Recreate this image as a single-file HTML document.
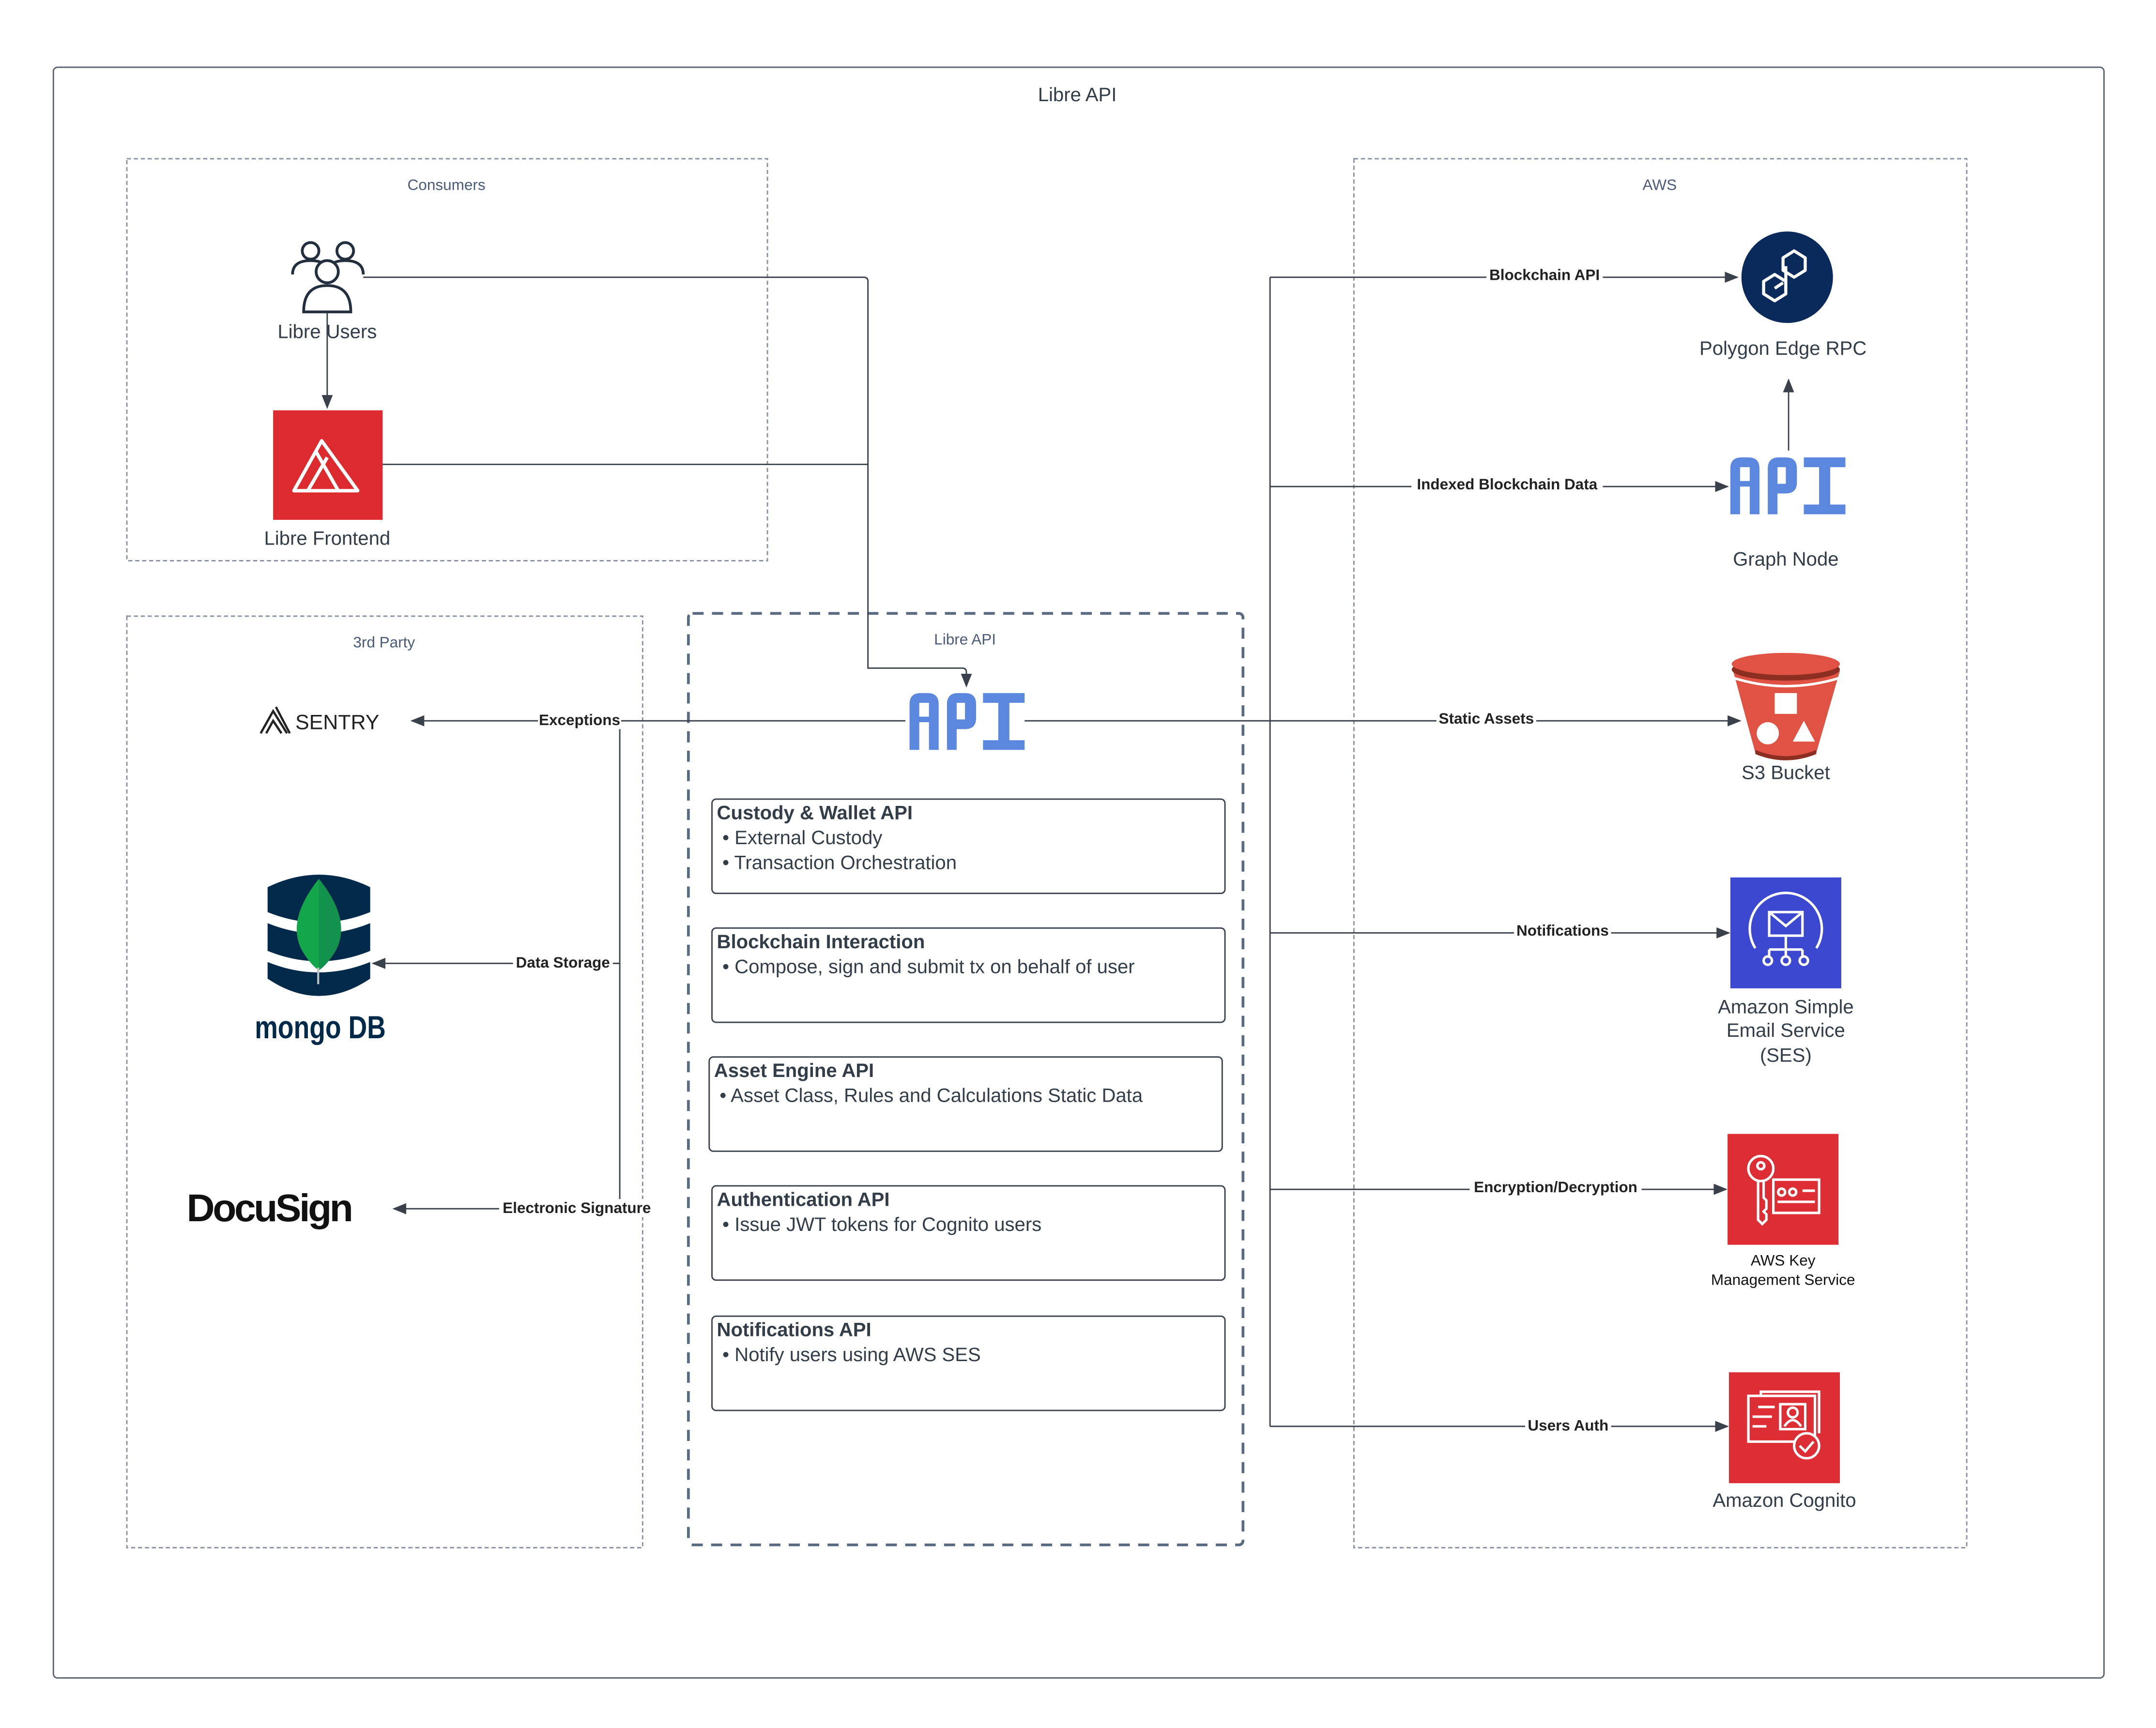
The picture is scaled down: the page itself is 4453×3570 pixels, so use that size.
<!DOCTYPE html>
<html><head><meta charset="utf-8"><style>
html,body{margin:0;padding:0;background:#fff;}
svg{display:block;}
text{font-family:"Liberation Sans",Arial,sans-serif;fill:#333d47;}
.lbl{font-size:14px;text-anchor:middle;}
.cl{font-size:11px;font-weight:bold;text-anchor:middle;fill:#222;}
.grp{font-size:11px;text-anchor:middle;fill:#4a5a78;}
.bt{font-size:14px;font-weight:bold;}
.bb{font-size:14px;}
</style></head><body>
<svg width="4453" height="3570" viewBox="0 0 1555 1246.6" preserveAspectRatio="none" xmlns="http://www.w3.org/2000/svg">
<defs>
<marker id="ar" markerWidth="10" markerHeight="8" refX="9" refY="4" orient="auto" markerUnits="userSpaceOnUse"><path d="M0,0 L10,4 L0,8 Z" fill="#3a414a"/></marker>
</defs>
<rect width="1555" height="1247" fill="#fff"/>
<rect x="38.5" y="48.5" width="1479" height="1162" rx="3" fill="none" stroke="#5a6270" stroke-width="1"/>
<text x="777" y="73" class="lbl">Libre API</text>

<rect x="91.5" y="114.5" width="462" height="290" fill="none" stroke="#8a90a0" stroke-dasharray="3,2" stroke-width="1"/>
<text x="322" y="137" class="grp">Consumers</text>
<rect x="976.5" y="114.5" width="442" height="1002" fill="none" stroke="#8a90a0" stroke-dasharray="3,2" stroke-width="1"/>
<text x="1197" y="137" class="grp">AWS</text>
<rect x="91.5" y="444.5" width="372" height="672" fill="none" stroke="#8a90a0" stroke-dasharray="3,2" stroke-width="1"/>
<text x="277" y="467" class="grp">3rd Party</text>
<rect x="496.5" y="442.5" width="400" height="672" rx="3" fill="none" stroke="#5a6a80" stroke-dasharray="8,6" stroke-width="2"/>
<text x="696" y="465" class="grp">Libre API</text>

<g stroke="#3a414a" stroke-width="1" fill="none">
<path d="M262,200 H623 Q626,200 626,203 V482 H694 Q697,482 697,485 V495" marker-end="url(#ar)"/>
<path d="M276,335 H626"/>
<path d="M236,226 V294" marker-end="url(#ar)"/>
<path d="M653,520 H297" marker-end="url(#ar)"/>
<path d="M447,520 V872"/>
<path d="M447,695 H269" marker-end="url(#ar)"/>
<path d="M447,872 H284" marker-end="url(#ar)"/>
<path d="M739,520 H1255" marker-end="url(#ar)"/>
<path d="M916,200 V1029"/>
<path d="M916,200 H1253" marker-end="url(#ar)"/>
<path d="M916,351 H1246" marker-end="url(#ar)"/>
<path d="M916,673 H1247" marker-end="url(#ar)"/>
<path d="M916,858 H1245" marker-end="url(#ar)"/>
<path d="M916,1029 H1246" marker-end="url(#ar)"/>
<path d="M1290,325 V274" marker-end="url(#ar)"/>
</g>
<g>
<rect x="388" y="513" width="60" height="13" fill="#fff"/><text x="418" y="523" class="cl">Exceptions</text>
<rect x="370" y="688" width="72" height="13" fill="#fff"/><text x="406" y="698" class="cl">Data Storage</text>
<rect x="360" y="865" width="112" height="13" fill="#fff"/><text x="416" y="875" class="cl">Electronic Signature</text>
<rect x="1072" y="192" width="84" height="13" fill="#fff"/><text x="1114" y="202" class="cl">Blockchain API</text>
<rect x="1018" y="343" width="138" height="13" fill="#fff"/><text x="1087" y="353" class="cl">Indexed Blockchain Data</text>
<rect x="1036" y="512" width="72" height="13" fill="#fff"/><text x="1072" y="522" class="cl">Static Assets</text>
<rect x="1092" y="665" width="70" height="13" fill="#fff"/><text x="1127" y="675" class="cl">Notifications</text>
<rect x="1060" y="850" width="124" height="13" fill="#fff"/><text x="1122" y="860" class="cl">Encryption/Decryption</text>
<rect x="1100" y="1021" width="62" height="13" fill="#fff"/><text x="1131" y="1032" class="cl">Users Auth</text>
</g>

<g stroke="#232f3e" stroke-width="2" fill="#fff">
<circle cx="224" cy="181" r="6"/><circle cx="249" cy="181" r="6"/>
<path d="M211,198 q0,-10 13,-10 q13,0 13,10"/><path d="M236,198 q0,-10 13,-10 q13,0 13,10"/>
<circle cx="236" cy="196" r="8"/>
<path d="M219,225 q0,-19 17,-19 q17,0 17,19 z"/>
</g>
<rect x="197" y="232" width="78" height="15" fill="#fff"/>
<text x="236" y="244" class="lbl">Libre Users</text>
<path d="M236,232 V247" stroke="#3a414a"/>

<rect x="197" y="296" width="79" height="79" fill="#dd2a2f"/>
<g fill="none" stroke="#fff" stroke-width="2.5" stroke-linejoin="round">
<path d="M212,354 L232,318 L258,354 Z"/><path d="M222,354 L236,330 M244,354 L228,326"/>
</g>
<text x="236" y="393" class="lbl">Libre Frontend</text>

<g fill="#5b87de">
<path d="M656,541 V508 q0,-8 8,-8 h5 q8,0 8,8 V541 h-7 V521 h-7 V541 Z M663,517 h7 V507 h-7 Z"/>
<path d="M683,541 V508 q0,-8 8,-8 h5 q8,0 8,8 v10 q0,8 -8,8 h-6 V541 Z M690,519 h6 V507 h-6 Z"/>
<path d="M709,500 h30 v7 h-11 v27 h11 v7 h-30 v-7 h11 v-27 h-11 Z"/>
</g>

<g fill="#fff" stroke="#3a414a" stroke-width="1">
<rect x="513.5" y="576.5" width="370" height="68" rx="3"/>
<rect x="513.5" y="669.5" width="370" height="68" rx="3"/>
<rect x="511.5" y="762.5" width="370" height="68" rx="3"/>
<rect x="513.5" y="855.5" width="370" height="68" rx="3"/>
<rect x="513.5" y="949.5" width="370" height="68" rx="3"/>
</g>
<text x="517" y="591" class="bt">Custody &amp; Wallet API</text>
<text x="521" y="609" class="bb">• External Custody</text>
<text x="521" y="627" class="bb">• Transaction Orchestration</text>
<text x="517" y="684" class="bt">Blockchain Interaction</text>
<text x="521" y="702" class="bb">• Compose, sign and submit tx on behalf of user</text>
<text x="515" y="777" class="bt">Asset Engine API</text>
<text x="519" y="795" class="bb">• Asset Class, Rules and Calculations Static Data</text>
<text x="517" y="870" class="bt">Authentication API</text>
<text x="521" y="888" class="bb">• Issue JWT tokens for Cognito users</text>
<text x="517" y="964" class="bt">Notifications API</text>
<text x="521" y="982" class="bb">• Notify users using AWS SES</text>

<path d="M188,529 l9,-16 l10,16 M192,529 l5,-9 l6,9 M199,510 l10,19" fill="none" stroke="#222" stroke-width="1.6"/>
<text x="213" y="526" style="font-size:15px;fill:#222">SENTRY</text>

<g fill="#012a4a">
<path d="M193,640 q37,-18 74,0 v18 q-37,15 -74,0 Z"/>
<path d="M193,666 q37,15 74,0 v20 q-37,15 -74,0 Z"/>
<path d="M193,694 q37,15 74,0 v12 q-37,25 -74,0 Z"/>
</g>
<path d="M230,634 q-24,30 -12,52 q6,10 12,14 q6,-4 12,-14 q12,-22 -12,-52 Z" fill="#14a64b"/>
<path d="M230,634 q24,30 12,52 q-6,10 -12,14 Z" fill="#13924d"/>
<path d="M229.5,698 v12" stroke="#b8c3c0" stroke-width="1.5"/>
<text x="0" y="0" style="font-size:22px;font-weight:bold;fill:#012a4a;text-anchor:middle" transform="translate(231,749) scale(0.85,1.05)">mongo DB</text>

<text x="194" y="881" style="font-size:28px;font-weight:bold;fill:#111;text-anchor:middle;letter-spacing:-1.5px">DocuSign</text>

<circle cx="1289" cy="200" r="33" fill="#0b2a5c"/>
<g fill="none" stroke="#fff" stroke-width="2.2" stroke-linejoin="round">
<path d="M1286,186 l8,-5 l8,5 v9 l-8,5 l-8,-5 Z"/>
<path d="M1272,203 l8,-5 l8,5 v9 l-8,5 l-8,-5 Z"/>
<path d="M1288,192 v18 M1280,208 l6,-4"/>
</g>
<text x="1286" y="256" class="lbl">Polygon Edge RPC</text>

<g fill="#5b87de" transform="translate(592,-170)">
<path d="M656,541 V508 q0,-8 8,-8 h5 q8,0 8,8 V541 h-7 V521 h-7 V541 Z M663,517 h7 V507 h-7 Z"/>
<path d="M683,541 V508 q0,-8 8,-8 h5 q8,0 8,8 v10 q0,8 -8,8 h-6 V541 Z M690,519 h6 V507 h-6 Z"/>
<path d="M709,500 h30 v7 h-11 v27 h11 v7 h-30 v-7 h11 v-27 h-11 Z"/>
</g>
<text x="1288" y="408" class="lbl">Graph Node</text>

<path d="M1250,484 L1266,543 q22,8 44,0 L1327,484 Z" fill="#e05243"/>
<path d="M1266,541 q22,9 44,0 v3 q-22,9 -44,0 Z" fill="#8c2e22"/>
<ellipse cx="1288" cy="483" rx="39" ry="8" fill="#8c2e22"/>
<ellipse cx="1288" cy="479" rx="39" ry="8" fill="#e05243"/>
<path d="M1250,489 q38,12 77,0" stroke="#fff" stroke-width="1.8" fill="none"/>
<rect x="1280" y="500" width="16" height="15" fill="#fff"/>
<circle cx="1275" cy="529" r="8" fill="#fff"/>
<path d="M1301,520 l8,15 h-16 Z" fill="#fff"/>
<text x="1288" y="562" class="lbl">S3 Bucket</text>

<rect x="1248" y="633" width="80" height="80" fill="#3c48cf"/>
<g fill="none" stroke="#fff" stroke-width="1.8">
<path d="M1266,684 a26,26 0 1 1 44,0"/>
<rect x="1276" y="658" width="24" height="17"/><path d="M1276,658 l12,10 l12,-10"/>
<path d="M1288,675 v10 M1276,685 h24 M1276,685 v5 M1300,685 v5 M1288,685 v5"/>
<circle cx="1275" cy="693" r="3"/><circle cx="1288" cy="693" r="3"/><circle cx="1301" cy="693" r="3"/>
</g>
<text x="1288" y="731" class="lbl">Amazon Simple</text>
<text x="1288" y="748" class="lbl">Email Service</text>
<text x="1288" y="766" class="lbl">(SES)</text>

<rect x="1246" y="818" width="80" height="80" fill="#dd2d35"/>
<g fill="none" stroke="#fff" stroke-width="1.8">
<circle cx="1270" cy="843" r="9"/><circle cx="1270" cy="841" r="2.5"/>
<path d="M1268,852 v28 l3,3 l3,-3 v-4 l-2,-2 l2,-2 v-6 l-2,-2 v-12"/>
<rect x="1279" y="851" width="33" height="24"/>
<circle cx="1285" cy="860" r="2.5"/><circle cx="1293" cy="860" r="2.5"/>
<path d="M1282,867 h27 M1300,859 h9"/>
</g>
<text x="1286" y="913" style="font-size:11px;text-anchor:middle;fill:#111">AWS Key</text>
<text x="1286" y="927" style="font-size:11px;text-anchor:middle;fill:#111">Management Service</text>

<rect x="1247" y="990" width="80" height="80" fill="#dd2d35"/>
<g fill="none" stroke="#fff" stroke-width="1.8">
<rect x="1261" y="1007" width="48" height="33"/>
<path d="M1268,1015 h12 M1264,1022 h14 M1264,1029 h10 M1270,1007 v-3 h42 v30"/>
<rect x="1284" y="1013" width="18" height="18"/><circle cx="1293" cy="1019" r="3.5"/><path d="M1287,1029 q6,-9 12,0"/>
<circle cx="1303" cy="1043" r="9" fill="#dd2d35"/><path d="M1298,1043 l4,4 l6,-7"/>
</g>
<text x="1287" y="1087" class="lbl">Amazon Cognito</text>
</svg>
</body></html>
